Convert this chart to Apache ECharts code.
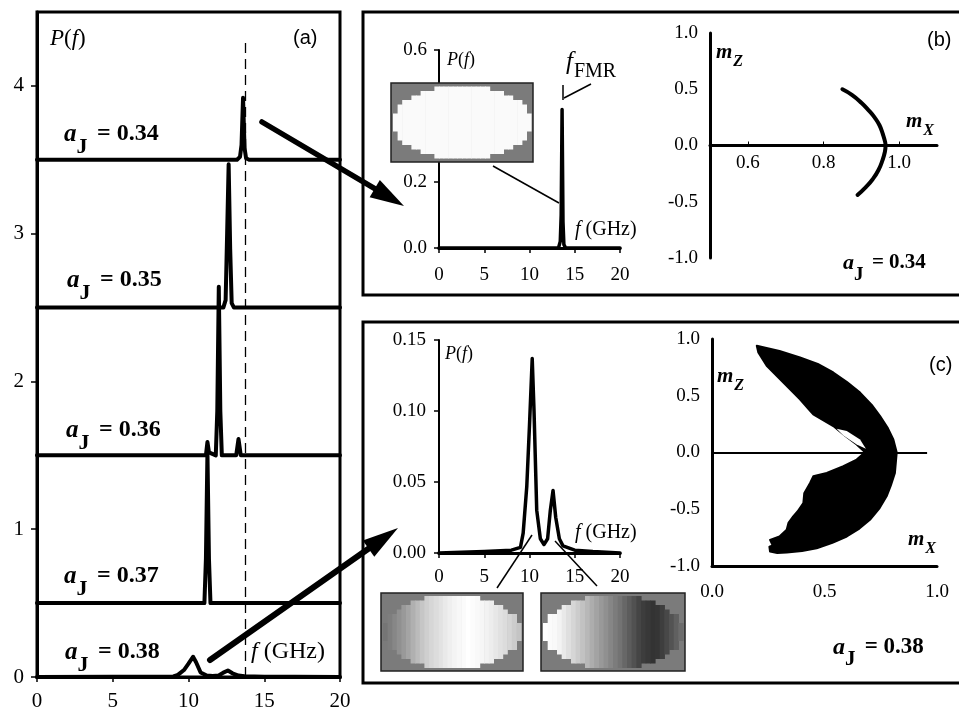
<!DOCTYPE html>
<html>
<head>
<meta charset="utf-8">
<script src="https://cdn.jsdelivr.net/npm/echarts@6/dist/echarts.min.js"></script>
<style>
html,body{margin:0;padding:0;background:#fff}
#c{width:959px;height:715px}
</style>
</head>
<body>
<div id="c"></div>
<script>
// ---- power spectra P(f), f in GHz, for each current amplitude a_J ----
const aJValues = ['0.34', '0.35', '0.36', '0.37', '0.38'];
const offsets = [3.5, 2.5, 1.5, 0.5, 0];

const spec034 = [[0,0],[13.2,0],[13.4,0.02],[13.5,0.1],[13.6,0.42],[13.7,0.08],[13.8,0.01],[14,0],[20,0]];
const spec035 = [[0,0],[12.3,0],[12.45,0.05],[12.55,0.5],[12.65,0.97],[12.75,0.4],[12.85,0.03],[13,0],[13.9,0],[14,0.01],[14.1,0],[20,0]];
const spec036 = [[0,0],[10.6,0],[10.7,0.01],[10.8,0],[11.15,0],[11.25,0.09],[11.35,0.02],[11.8,0],[11.9,0.3],[12,1.14],[12.1,0.3],[12.2,0],[13.15,0],[13.3,0.11],[13.45,0],[14.5,0],[14.6,0.01],[14.7,0],[20,0]];
const spec037 = [[0,0],[11.05,0],[11.15,0.3],[11.25,1.02],[11.35,0.3],[11.45,0],[20,0]];
const spec038 = [[0,0],[5,0.001],[8,0.002],[9,0.004],[9.3,0.014],[9.7,0.047],[10,0.09],[10.3,0.137],[10.5,0.1],[10.8,0.03],[11.2,0.01],[11.6,0.006],[12,0.01],[12.3,0.03],[12.6,0.044],[12.9,0.025],[13.3,0.01],[13.7,0.005],[15,0.002],[17,0.001],[20,0]];
const spectra = [spec034, spec035, spec036, spec037, spec038];

const fFMR = 13.75;          // ferromagnetic resonance frequency (dashed line)
const orbitTicks = [0.6, 0.8, 1.0];

// ---- magnetisation trajectories (m_x, m_z) ----
const orbit034 = [[0.85,0.5],[0.875,0.45],[0.9,0.38],[0.92,0.31],[0.935,0.25],[0.948,0.18],[0.957,0.1],[0.963,0.03],[0.964,0],[0.962,-0.06],[0.956,-0.13],[0.945,-0.22],[0.93,-0.3],[0.912,-0.37],[0.89,-0.44]];

const crescentOuter = [[0.199,0.94],[0.3,0.895],[0.391,0.838],[0.47,0.78],[0.539,0.705],[0.6,0.62],[0.658,0.528],[0.71,0.42],[0.747,0.321],[0.78,0.22],[0.806,0.115],[0.821,0],[0.813,-0.18],[0.795,-0.29],[0.776,-0.386],[0.745,-0.49],[0.702,-0.593],[0.655,-0.67],[0.599,-0.74],[0.535,-0.795],[0.465,-0.844],[0.4,-0.868],[0.332,-0.882],[0.29,-0.885],[0.258,-0.873]];
const crescentInner = [[0.255,-0.83],[0.27,-0.82],[0.258,-0.77],[0.3,-0.74],[0.332,-0.681],[0.34,-0.62],[0.361,-0.563],[0.38,-0.52],[0.406,-0.445],[0.41,-0.36],[0.436,-0.268],[0.45,-0.21],[0.51,-0.18],[0.584,-0.121],[0.643,-0.062],[0.68,0.003],[0.643,0.071],[0.59,0.15],[0.539,0.233],[0.45,0.336],[0.43,0.38],[0.391,0.469],[0.317,0.617],[0.243,0.764],[0.206,0.882]];
const crescentGap = [[0.554,0.21],[0.599,0.189],[0.658,0.115],[0.684,0.033],[0.643,0.071],[0.584,0.15]];

const SERIF = '"Liberation Serif", "DejaVu Serif", serif';
const SANS = '"Liberation Sans", Arial, sans-serif';

// ---- shared axis styles ----
function axisBase(extra) {
  return Object.assign({
    splitLine: { show: false },
    axisLine: { show: true, lineStyle: { color: '#000', width: 3 } },
    axisTick: { show: true, length: 5, lineStyle: { color: '#000', width: 1.5 } },
    axisLabel: { color: '#000', fontFamily: SERIF, fontSize: 19 }
  }, extra);
}
const fix = n => v => v.toFixed(n);

function spectrumLine(data, xi, width, extra) {
  return Object.assign({
    type: 'line', xAxisIndex: xi, yAxisIndex: xi, data: data,
    showSymbol: false, symbol: 'none', silent: true, clip: false,
    lineStyle: { color: '#000', width: width, join: 'round', cap: 'round' },
    animation: false
  }, extra || {});
}

// ---- panel (a) stacked spectra ----
const stacked = spectra.map((s, i) =>
  spectrumLine(s.map(p => [p[0], p[1] + offsets[i]]), 0, 4,
    i === spectra.length - 1 ? {
      markLine: {
        symbol: 'none', silent: true, label: { show: false },
        lineStyle: { color: '#000', width: 1.3, type: [10, 6] },
        data: [[{ coord: [fFMR, 0] }, { coord: [fFMR, 4.3] }]]
      }
    } : {}));

// ---- text helpers ----
function aJLabel(x, yc, val, size) {
  return {
    type: 'text', x: x, y: yc - size * 0.5, z: 60,
    style: {
      text: '{a|a}{j|J}{v|= ' + val + '}', verticalAlign: 'top', textVerticalAlign: 'top',
      rich: {
        a: { fontFamily: SERIF, fontSize: size + 1, fontWeight: 'bold', fontStyle: 'italic', verticalAlign: 'top', fill: '#000' },
        j: { fontFamily: SERIF, fontSize: size - 2, fontWeight: 'bold', verticalAlign: 'top', padding: [size * 0.6, 0, 0, 0], fill: '#000' },
        v: { fontFamily: SERIF, fontSize: size, fontWeight: 'bold', verticalAlign: 'top', padding: [0, 0, 0, size * 0.4], fill: '#000' }
      }
    }
  };
}
function subLabel(x, yc, main, sub, size, subSize, mainStyle, subStyle, drop) {
  return {
    type: 'text', x: x, y: yc - size * 0.5, z: 60,
    style: {
      text: '{m|' + main + '}{s|' + sub + '}', verticalAlign: 'top', textVerticalAlign: 'top',
      rich: {
        m: Object.assign({ fontFamily: SERIF, fontSize: size, verticalAlign: 'top', fill: '#000' }, mainStyle),
        s: Object.assign({ fontFamily: SERIF, fontSize: subSize, verticalAlign: 'top', padding: [drop, 0, 0, 1], fill: '#000' }, subStyle)
      }
    }
  };
}
function pfLabel(x, yc, size) {
  return {
    type: 'text', x: x, y: yc, z: 60,
    style: {
      text: '{i|P}{n|(}{i|f}{n|)}', verticalAlign: 'middle', textVerticalAlign: 'middle',
      rich: {
        i: { fontFamily: SERIF, fontSize: size, fontStyle: 'italic', fill: '#000' },
        n: { fontFamily: SERIF, fontSize: size, fill: '#000' }
      }
    }
  };
}
function ghzLabel(x, yc, size) {
  return {
    type: 'text', x: x, y: yc, z: 60,
    style: {
      text: '{i|f}{n| (GHz)}', verticalAlign: 'middle', textVerticalAlign: 'middle',
      rich: {
        i: { fontFamily: SERIF, fontSize: size, fontStyle: 'italic', fill: '#000' },
        n: { fontFamily: SERIF, fontSize: size, fill: '#000' }
      }
    }
  };
}
function plainText(x, yc, text, size, font) {
  return {
    type: 'text', x: x, y: yc, z: 60,
    style: { text: text, fontFamily: font, fontSize: size, fill: '#000', verticalAlign: 'middle', textVerticalAlign: 'middle' }
  };
}
function seg(x1, y1, x2, y2, w) {
  return { type: 'line', z: 55, shape: { x1: x1, y1: y1, x2: x2, y2: y2 }, style: { stroke: '#000', lineWidth: w } };
}
function arrow(x1, y1, x2, y2, w, headLen, headHalf) {
  const dx = x2 - x1, dy = y2 - y1, L = Math.hypot(dx, dy);
  const ux = dx / L, uy = dy / L, nx = -uy, ny = ux;
  const bx = x2 - ux * headLen, by = y2 - uy * headLen;
  return [
    { type: 'line', z: 55, shape: { x1: x1, y1: y1, x2: bx + ux * 2, y2: by + uy * 2 }, style: { stroke: '#000', lineWidth: w, lineCap: 'round' } },
    { type: 'polygon', z: 55, shape: { points: [[x2, y2], [bx + nx * headHalf, by + ny * headHalf], [bx - nx * headHalf, by - ny * headHalf]] }, style: { fill: '#000' } }
  ];
}
// pixelated micromagnetic snapshot: elliptical element on a grey field
function snapshot(x, y, w, h, shade) {
  const els = [{ type: 'rect', z: 70, shape: { x: x, y: y, width: w, height: h }, style: { fill: '#7b7b7b', stroke: '#222', lineWidth: 1.5 } }];
  const cols = 30, cw = (w - 4) / cols, step = 4.5;
  const rx = (w - 4) / 2, ry = (h - 5) / 2, cx = x + w / 2, cy = y + h / 2;
  for (let i = 0; i < cols; i++) {
    const t = (i + 0.5) / cols;
    const u = (x + 2 + (i + 0.5) * cw - cx) / rx;
    let hh = ry * Math.sqrt(Math.max(0, 1 - u * u));
    hh = Math.max(step, Math.round(hh / step) * step);
    if (hh > ry) hh = ry;
    const g = Math.round(255 * shade(t));
    els.push({ type: 'rect', z: 71, shape: { x: x + 2 + i * cw, y: cy - hh, width: cw + 0.6, height: 2 * hh }, style: { fill: 'rgb(' + g + ',' + g + ',' + g + ')' } });
  }
  return els;
}
function interp(stops) {
  return t => {
    for (let k = 1; k < stops.length; k++) {
      if (t <= stops[k][0]) {
        const a = stops[k - 1], b = stops[k];
        return a[1] + (b[1] - a[1]) * (t - a[0]) / (b[0] - a[0]);
      }
    }
    return stops[stops.length - 1][1];
  };
}
const shadeUniform = () => 0.98;
const shadeLow = interp([[0,0.44],[0.15,0.6],[0.3,0.8],[0.5,0.95],[0.62,1.0],[0.75,0.95],[0.9,0.85],[1,0.75]]);
const shadeHigh = interp([[0,1.0],[0.1,0.97],[0.25,0.8],[0.4,0.62],[0.55,0.45],[0.7,0.25],[0.8,0.19],[0.9,0.3],[1,0.45]]);

const graphics = [].concat(
  [
    { type: 'rect', z: 40, shape: { x: 363, y: 12, width: 610, height: 283 }, style: { fill: 'none', stroke: '#000', lineWidth: 3 } },
    { type: 'rect', z: 40, shape: { x: 363, y: 322, width: 610, height: 361 }, style: { fill: 'none', stroke: '#000', lineWidth: 3 } }
  ],
  arrow(262, 122, 404, 206, 5.5, 34, 10),
  arrow(210, 660, 398, 528, 6, 36, 10),
  snapshot(391, 83, 142, 79, shadeUniform),
  snapshot(381, 593, 142, 78, shadeLow),
  snapshot(541, 593, 144, 78, shadeHigh),
  [
    seg(493, 166, 559, 203, 1.5),
    seg(563, 85, 563, 100, 1.5),
    seg(564, 98, 591, 84, 1.5),
    seg(497, 588, 532, 535, 1.5),
    seg(597, 586, 555, 541, 1.5),
    // panel (a)
    pfLabel(50, 39, 23),
    plainText(293, 38, '(a)', 20, SANS),
    ghzLabel(251, 652, 24),
    aJLabel(64, 134, '0.34', 24),
    aJLabel(67, 280, '0.35', 24),
    aJLabel(66, 430, '0.36', 24),
    aJLabel(64, 576, '0.37', 24),
    aJLabel(65, 652, '0.38', 24),
    // panel (b)
    pfLabel(447, 60, 18),
    subLabel(566, 62, 'f', 'FMR', 25, 20, { fontStyle: 'italic' }, {}, 12),
    ghzLabel(575, 230, 20),
    subLabel(716, 53, 'm', 'Z', 21, 16, { fontStyle: 'italic', fontWeight: 'bold' }, { fontStyle: 'italic', fontWeight: 'bold' }, 11),
    subLabel(906, 122, 'm', 'X', 21, 16, { fontStyle: 'italic', fontWeight: 'bold' }, { fontStyle: 'italic', fontWeight: 'bold' }, 11),
    plainText(927, 40, '(b)', 20, SANS),
    aJLabel(843, 263, '0.34', 21),
    // panel (c)
    pfLabel(445, 354, 18),
    ghzLabel(575, 533, 20),
    subLabel(717, 377, 'm', 'Z', 21, 16, { fontStyle: 'italic', fontWeight: 'bold' }, { fontStyle: 'italic', fontWeight: 'bold' }, 11),
    subLabel(908, 540, 'm', 'X', 21, 16, { fontStyle: 'italic', fontWeight: 'bold' }, { fontStyle: 'italic', fontWeight: 'bold' }, 11),
    plainText(929, 365, '(c)', 20, SANS),
    aJLabel(833, 647, '0.38', 23)
  ]
);

const option = {
  backgroundColor: '#fff',
  animation: false,
  grid: [
    { left: 37, top: 12, width: 303, height: 665, show: true, borderColor: '#000', borderWidth: 3, backgroundColor: 'transparent' },
    { left: 439, top: 50, width: 181, height: 198 },
    { left: 710, top: 33, width: 227, height: 225 },
    { left: 439, top: 340, width: 181, height: 213 },
    { left: 712, top: 339, width: 225, height: 227 }
  ],
  xAxis: [
    axisBase({ gridIndex: 0, type: 'value', min: 0, max: 20, interval: 5, axisLabel: { color: '#000', fontFamily: SERIF, fontSize: 21, margin: 14 } }),
    axisBase({ gridIndex: 1, type: 'value', min: 0, max: 20, interval: 5, axisLabel: { color: '#000', fontFamily: SERIF, fontSize: 19, margin: 18 } }),
    // labels sit just under the m_z = 0 line
    axisBase({ gridIndex: 2, type: 'value', min: 0.5, max: 1.1,
      axisLine: { show: true, onZero: true, lineStyle: { color: '#000', width: 3 } },
      axisTick: { show: true, inside: true, length: 4, customValues: orbitTicks, lineStyle: { color: '#000', width: 1 } },
      axisLabel: { color: '#000', fontFamily: SERIF, fontSize: 19, margin: -104, customValues: orbitTicks, formatter: fix(1) } }),
    axisBase({ gridIndex: 3, type: 'value', min: 0, max: 20, interval: 5, axisLabel: { color: '#000', fontFamily: SERIF, fontSize: 19, margin: 15 } }),
    axisBase({ gridIndex: 4, type: 'value', min: 0, max: 1, interval: 0.5,
      axisLine: { show: true, onZero: false, lineStyle: { color: '#000', width: 3 } },
      axisTick: { show: false },
      axisLabel: { color: '#000', fontFamily: SERIF, fontSize: 19, margin: 17, formatter: fix(1) } })
  ],
  yAxis: [
    axisBase({ gridIndex: 0, type: 'value', min: 0, max: 4.5, interval: 1,
      axisTick: { show: true, length: 6, customValues: [0, 1, 2, 3, 4], lineStyle: { color: '#000', width: 1.5 } },
      axisLabel: { color: '#000', fontFamily: SERIF, fontSize: 21, margin: 13, customValues: [0, 1, 2, 3, 4],
        formatter: v => (Number.isInteger(v) ? String(v) : '') } }),
    axisBase({ gridIndex: 1, type: 'value', min: 0, max: 0.6, interval: 0.2,
      axisLine: { show: true, lineStyle: { color: '#000', width: 2 } },
      axisLabel: { color: '#000', fontFamily: SERIF, fontSize: 19, margin: 12, formatter: fix(1) } }),
    axisBase({ gridIndex: 2, type: 'value', min: -1, max: 1, interval: 0.5,
      axisLine: { show: true, onZero: false, lineStyle: { color: '#000', width: 3 } },
      axisTick: { show: false },
      axisLabel: { color: '#000', fontFamily: SERIF, fontSize: 19, margin: 12, formatter: fix(1) } }),
    axisBase({ gridIndex: 3, type: 'value', min: 0, max: 0.15, interval: 0.05,
      axisLine: { show: true, lineStyle: { color: '#000', width: 2 } },
      axisLabel: { color: '#000', fontFamily: SERIF, fontSize: 19, margin: 13, formatter: fix(2) } }),
    axisBase({ gridIndex: 4, type: 'value', min: -1, max: 1, interval: 0.5,
      axisLine: { show: true, onZero: false, lineStyle: { color: '#000', width: 3 } },
      axisTick: { show: false },
      axisLabel: { color: '#000', fontFamily: SERIF, fontSize: 19, margin: 12, formatter: fix(1) } })
  ],
  series: stacked.concat([
    spectrumLine(spec034, 1, 3.5),
    spectrumLine(orbit034, 2, 4, { smooth: true }),
    spectrumLine(spec038, 3, 3.5),
    {
      type: 'custom', xAxisIndex: 4, yAxisIndex: 4, silent: true, clip: false, animation: false,
      data: [[0, 0]],
      renderItem: function (params, api) {
        const outline = crescentOuter.concat(crescentInner).map(p => api.coord(p));
        const gap = crescentGap.map(p => api.coord(p));
        return {
          type: 'group',
          children: [
            { type: 'polygon', shape: { points: outline }, style: { fill: '#000', stroke: '#000', lineWidth: 2, lineJoin: 'round' } },
            { type: 'polygon', shape: { points: gap }, style: { fill: '#fff', stroke: null } }
          ]
        };
      },
      markLine: {
        symbol: 'none', silent: true, label: { show: false },
        lineStyle: { color: '#000', width: 2, type: 'solid' },
        data: [[{ coord: [0, 0] }, { coord: [0.956, 0] }]]
      }
    }
  ]),
  graphic: graphics
};

const chart = echarts.init(document.getElementById('c'));
chart.setOption(option);
</script>
</body>
</html>
